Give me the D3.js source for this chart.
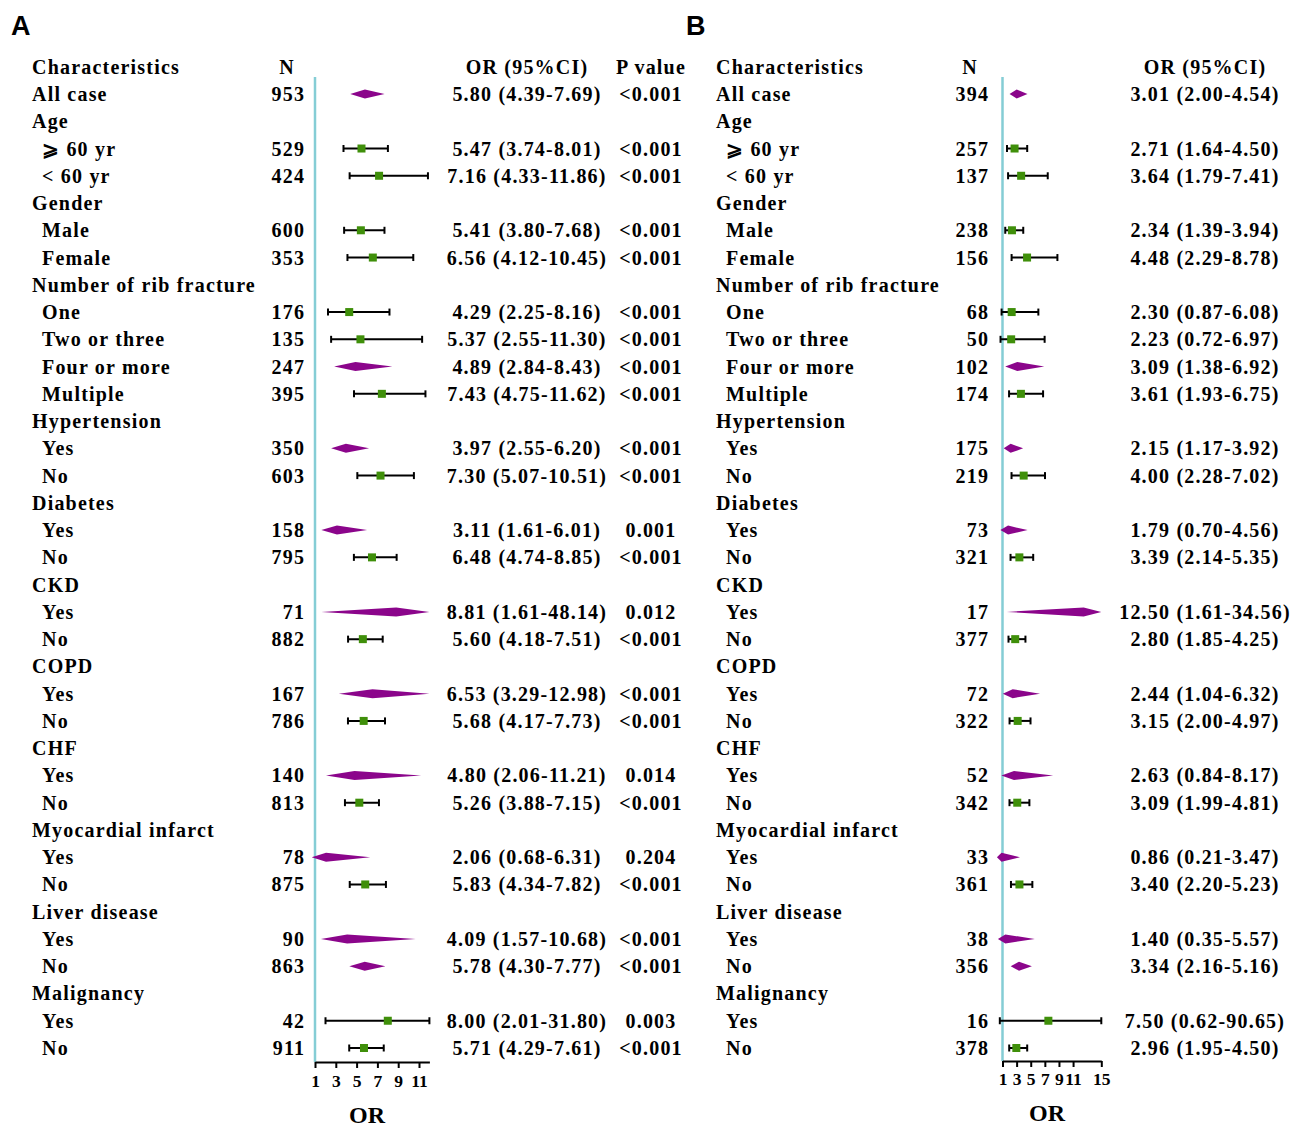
<!DOCTYPE html>
<html><head><meta charset="utf-8">
<script src="https://cdn.jsdelivr.net/npm/d3@7"></script>
<style>
body{margin:0;background:#fff;}
svg text{font-family:"Liberation Serif","Times New Roman",serif;font-weight:bold;fill:#000;}
</style></head>
<body><svg id="c" width="1293" height="1129"></svg>
<script>
// ---- data ----
const rowLabels = ["All case","Age","\u2A7E 60 yr","< 60 yr","Gender","Male","Female","Number of rib fracture","One","Two or three","Four or more","Multiple","Hypertension","Yes","No","Diabetes","Yes","No","CKD","Yes","No","COPD","Yes","No","CHF","Yes","No","Myocardial infarct","Yes","No","Liver disease","Yes","No","Malignancy","Yes","No"];
const rowIndent = [0,0,1,1,0,1,1,0,1,1,1,1,0,1,1,0,1,1,0,1,1,0,1,1,0,1,1,0,1,1,0,1,1,0,1,1];
// marker type per row: D = diamond, S = square with whiskers, "" = group header
const markerType = ["D","","S","S","","S","S","","S","S","D","S","","D","S","","D","S","","D","S","","D","S","","D","S","","D","S","","D","D","","S","S"];

const nA   = [953,null,529,424,null,600,353,null,176,135,247,395,null,350,603,null,158,795,null,71,882,null,167,786,null,140,813,null,78,875,null,90,863,null,42,911];
const orA  = [5.80,null,5.47,7.16,null,5.41,6.56,null,4.29,5.37,4.89,7.43,null,3.97,7.30,null,3.11,6.48,null,8.81,5.60,null,6.53,5.68,null,4.80,5.26,null,2.06,5.83,null,4.09,5.78,null,8.00,5.71];
const loA  = [4.39,null,3.74,4.33,null,3.80,4.12,null,2.25,2.55,2.84,4.75,null,2.55,5.07,null,1.61,4.74,null,1.61,4.18,null,3.29,4.17,null,2.06,3.88,null,0.68,4.34,null,1.57,4.30,null,2.01,4.29];
const hiA  = [7.69,null,8.01,11.86,null,7.68,10.45,null,8.16,11.30,8.43,11.62,null,6.20,10.51,null,6.01,8.85,null,48.14,7.51,null,12.98,7.73,null,11.21,7.15,null,6.31,7.82,null,10.68,7.77,null,31.80,7.61];
const pA   = ["<0.001",null,"<0.001","<0.001",null,"<0.001","<0.001",null,"<0.001","<0.001","<0.001","<0.001",null,"<0.001","<0.001",null,"0.001","<0.001",null,"0.012","<0.001",null,"<0.001","<0.001",null,"0.014","<0.001",null,"0.204","<0.001",null,"<0.001","<0.001",null,"0.003","<0.001"];

const nB   = [394,null,257,137,null,238,156,null,68,50,102,174,null,175,219,null,73,321,null,17,377,null,72,322,null,52,342,null,33,361,null,38,356,null,16,378];
const orB  = [3.01,null,2.71,3.64,null,2.34,4.48,null,2.30,2.23,3.09,3.61,null,2.15,4.00,null,1.79,3.39,null,12.50,2.80,null,2.44,3.15,null,2.63,3.09,null,0.86,3.40,null,1.40,3.34,null,7.50,2.96];
const loB  = [2.00,null,1.64,1.79,null,1.39,2.29,null,0.87,0.72,1.38,1.93,null,1.17,2.28,null,0.70,2.14,null,1.61,1.85,null,1.04,2.00,null,0.84,1.99,null,0.21,2.20,null,0.35,2.16,null,0.62,1.95];
const hiB  = [4.54,null,4.50,7.41,null,3.94,8.78,null,6.08,6.97,6.92,6.75,null,3.92,7.02,null,4.56,5.35,null,34.56,4.25,null,6.32,4.97,null,8.17,4.81,null,3.47,5.23,null,5.57,5.16,null,90.65,4.50];

const ticksA = [1,3,5,7,9,11];
const ticksB = [1,3,5,7,9,11,15];

// ---- drawing ----
const svg = d3.select("#c");
const rowIdx = d3.range(rowLabels.length);
const y = d3.scaleLinear().domain([0, rowLabels.length-1]).range([94, 1048]);
const headerY = 67;
const fs = 20, ls = 1.2;
const purple = "#8b058b", green = "#3f8f0a", teal = "#85cdd5";

function fmt(v){ return v.toFixed(2); }

function panel(cfg){
  const g = svg.append("g");
  g.append("text").attr("x", cfg.labelX).attr("y", 35)
    .style("font-family","'Liberation Sans',Arial,sans-serif").style("font-size","27px").style("font-weight","bold")
    .text(cfg.letter);
  const txt = (x, yy, s, anchor) => g.append("text").attr("x", x).attr("y", yy).attr("dy","0.35em")
      .attr("text-anchor", anchor||"start").style("font-size", fs+"px").style("letter-spacing", ls+"px").text(s);
  // header
  txt(cfg.charX, headerY, "Characteristics");
  txt(cfg.nHeadX, headerY, "N", "middle");
  txt(cfg.orX, headerY, "OR (95%CI)", "middle");
  if (cfg.p) txt(cfg.pX, headerY, "P value", "middle");

  const x = d3.scaleLinear().domain(cfg.domain).range(cfg.range);
  const xmax = cfg.domain[1];

  rowIdx.forEach(i => {
    const yy = y(i);
    txt(cfg.charX + (rowIndent[i] ? 10 : 0), yy, rowLabels[i]);
    if (cfg.n[i] == null) return;
    txt(cfg.nX + ls, yy, String(cfg.n[i]), "end");
    txt(cfg.orX, yy, fmt(cfg.or[i]) + " (" + fmt(cfg.lo[i]) + "-" + fmt(cfg.hi[i]) + ")", "middle");
    if (cfg.p) txt(cfg.pX, yy, cfg.p[i], "middle");
  });

  // reference line at OR = 1
  g.append("line").attr("x1", x(1)).attr("x2", x(1)).attr("y1", 77).attr("y2", cfg.axisY)
    .attr("stroke", teal).attr("stroke-width", 2.5);

  // marks
  rowIdx.forEach(i => {
    if (cfg.n[i] == null) return;
    const yy = y(i);
    const lo = x(cfg.lo[i]), hi = x(Math.min(cfg.hi[i], xmax)), c = x(cfg.or[i]);
    if (markerType[i] === "D") {
      g.append("path").attr("d", `M${lo},${yy} L${c},${yy-4.5} L${hi},${yy} L${c},${yy+4.5} Z`).attr("fill", purple);
    } else {
      g.append("line").attr("x1", lo).attr("x2", hi).attr("y1", yy).attr("y2", yy).attr("stroke","#000").attr("stroke-width",2);
      [lo, hi].forEach(xx => g.append("line").attr("x1", xx).attr("x2", xx).attr("y1", yy-3.5).attr("y2", yy+3.5).attr("stroke","#000").attr("stroke-width",2));
      g.append("rect").attr("x", c-4).attr("y", yy-4).attr("width", 8).attr("height", 8).attr("fill", green);
    }
  });

  // axis
  const ax = g.append("g").attr("transform", `translate(0,${cfg.axisY})`)
    .call(d3.axisBottom(x).tickValues(cfg.ticks).tickSize(6).tickPadding(cfg.tickPad).tickSizeOuter(0).tickFormat(d3.format("d")));
  ax.select(".domain").attr("stroke","#000").attr("stroke-width",2);
  ax.selectAll(".tick line").attr("stroke","#000").attr("stroke-width",2);
  ax.selectAll(".tick text").style("font-family","'Liberation Serif',serif").style("font-weight","bold").style("font-size","17.5px").attr("fill","#000");
  g.append("text").attr("x", cfg.orLabelX).attr("y", cfg.orLabelY).attr("text-anchor","middle")
    .style("font-size","24px").text("OR");
}

panel({letter:"A", labelX:11, charX:32, nHeadX:287, nX:304, orX:527, pX:651, p:pA,
  n:nA, or:orA, lo:loA, hi:hiA, domain:[1,12], range:[315,429.4], ticks:ticksA, axisY:1062, tickPad:7, orLabelX:367, orLabelY:1123});
panel({letter:"B", labelX:686, charX:716, nHeadX:970, nX:988, orX:1205, pX:0, p:null,
  n:nB, or:orB, lo:loB, hi:hiB, domain:[1,15], range:[1002.5,1101.3], ticks:ticksB, axisY:1061, tickPad:6, orLabelX:1047, orLabelY:1121});
</script></body></html>
